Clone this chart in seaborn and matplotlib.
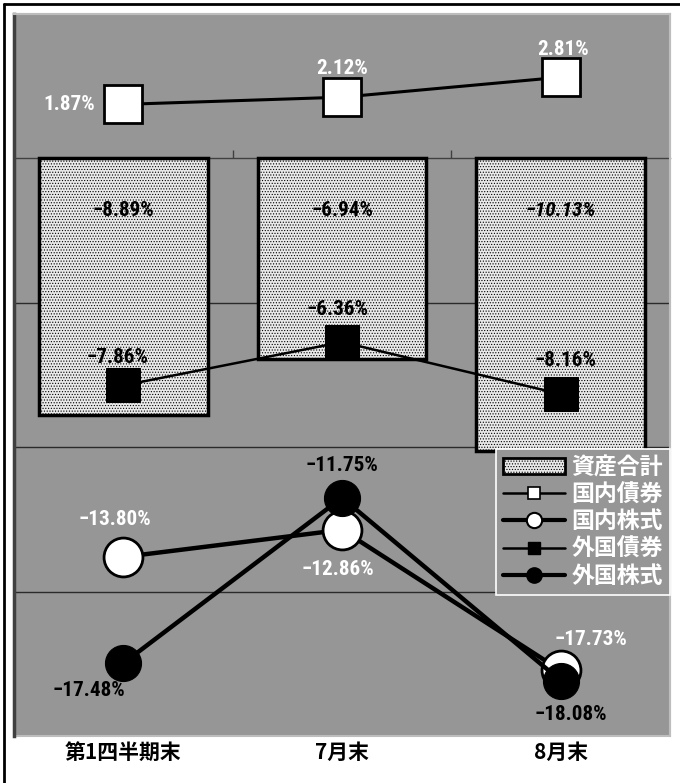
import matplotlib
matplotlib.use('Agg')
import matplotlib.pyplot as plt
import matplotlib.transforms as mtransforms
from matplotlib import font_manager
from matplotlib.lines import Line2D
from matplotlib.patches import Patch
import seaborn as sns

# データ
categories = ['第1四半期末', '7月末', '8月末']
total_assets = [-8.89, -6.94, -10.13]      # 資産合計
dom_bonds = [1.87, 2.12, 2.81]              # 国内債券
dom_stocks = [-13.80, -12.86, -17.73]       # 国内株式
for_bonds = [-7.86, -6.36, -8.16]           # 外国債券
for_stocks = [-17.48, -11.75, -18.08]       # 外国株式

sns.set_theme(style='white')

# 細身のフォントがあれば使う
installed = {f.name for f in font_manager.fontManager.ttflist}
narrow = None
num_size = 13
for name, size in [('Liberation Sans Narrow', 15.5), ('DejaVu Sans Condensed', 14.8),
                   ('Roboto Condensed', 15.2), ('Open Sans Condensed', 15)]:
    if name in installed:
        narrow, num_size = name, size
        break
if narrow is None:
    narrow = 'Liberation Sans'
num_font = [narrow, 'DejaVu Sans']
cjk_font = ['Noto Sans CJK JP', 'DejaVu Sans']

plt.rcParams['font.family'] = num_font + ['Noto Sans CJK JP']
plt.rcParams['hatch.color'] = '#a8a8a8'
plt.rcParams['hatch.linewidth'] = 0.5

BG = '#969696'

fig = plt.figure(figsize=(6.8, 7.83), dpi=100)
ax = fig.add_axes([14 / 680, 1 - 736 / 783, 656 / 680, 722 / 783])
ax.set_facecolor(BG)

xpos = list(range(len(categories)))

# 棒グラフ（資産合計）
sns.barplot(x=xpos, y=total_assets, ax=ax, color='#e6e6e6', width=0.77,
            edgecolor='black', linewidth=2.5, zorder=2, native_scale=True)
for p in ax.patches:
    p.set_facecolor('#e9e9e9')
    p.set_hatch('......')

# 折れ線
sns.lineplot(x=xpos, y=dom_bonds, ax=ax, color='black', linewidth=2.2,
             marker='s', markersize=28, markerfacecolor='white',
             markeredgecolor='black', markeredgewidth=2, zorder=4)
sns.lineplot(x=xpos, y=for_bonds, ax=ax, color='black', linewidth=1.8,
             marker='s', markersize=24, markerfacecolor='black',
             markeredgecolor='black', zorder=4)
sns.lineplot(x=xpos, y=dom_stocks, ax=ax, color='black', linewidth=3.2,
             marker='o', markersize=28, markerfacecolor='white',
             markeredgecolor='black', markeredgewidth=2, zorder=5)
sns.lineplot(x=xpos, y=for_stocks, ax=ax, color='black', linewidth=3.2,
             marker='o', markersize=26, markerfacecolor='black',
             markeredgecolor='black', zorder=6)

ax.set_xlim(-0.5, 2.5)
ax.set_ylim(-20, 5)

# 目盛線
for yv in [-5, -10, -15]:
    ax.axhline(yv, color='#2a2a2a', linewidth=1, zorder=1)

ax.spines['bottom'].set_position(('data', 0))
ax.spines['bottom'].set_color('#404040')
ax.spines['bottom'].set_linewidth(1)
ax.spines['bottom'].set_zorder(1)
ax.spines['left'].set_color('#404040')
ax.spines['left'].set_linewidth(2.5)
ax.spines['top'].set_color('#bdbdbd')
ax.spines['top'].set_linewidth(1.5)
ax.spines['right'].set_color('#bdbdbd')
ax.spines['right'].set_linewidth(1.5)
ax.patch.set_edgecolor('#bdbdbd')
ax.patch.set_linewidth(1.5)

ax.set_xticks(xpos)
ax.set_xticklabels([])
ax.set_xticks([0.5, 1.5], minor=True)
ax.tick_params(axis='x', which='major', length=0)
ax.tick_params(axis='x', which='minor', direction='in', length=6,
               width=1, color='#404040', bottom=True)
ax.set_yticks([])
ax.set_xlabel('')
ax.set_ylabel('')

# カテゴリ名
trans = mtransforms.blended_transform_factory(ax.transData, fig.transFigure)
for x, c in zip(xpos, categories):
    ax.text(x, 1 - 752 / 783, c, transform=trans, ha='center', va='center',
            fontsize=15, fontweight='bold', family=cjk_font, color='black')


def pct(v):
    return f'{v:.2f}%'.replace('-', '\u2212')


def lab(x, y, dx, dy, color, italic=False):
    ax.annotate(pct(y), (x, y), xytext=(dx, dy), textcoords='offset pixels',
                ha='center', va='center', fontsize=num_size, fontweight='bold',
                family=num_font, color=color,
                fontstyle='italic' if italic else 'normal', zorder=8)


# 資産合計ラベル
for x, v in zip(xpos, total_assets):
    ax.annotate(pct(v), (x, -1.8), ha='center', va='center', fontsize=num_size,
                fontweight='bold', family=num_font, color='black',
                fontstyle='italic' if x == 2 else 'normal', zorder=8)

# 国内債券
lab(0, dom_bonds[0], -54, 0, 'white')
lab(1, dom_bonds[1], 0, 29, 'white')
lab(2, dom_bonds[2], 2, 28, 'white')
# 外国債券
lab(0, for_bonds[0], -6, 28, 'black')
lab(1, for_bonds[1], -4, 33, 'black')
lab(2, for_bonds[2], 5, 34, 'black')
# 国内株式
lab(0, dom_stocks[0], -8, 37, 'white')
lab(1, dom_stocks[1], -4, -40, 'white')
lab(2, dom_stocks[2], 30, 31, 'white')
# 外国株式
lab(0, for_stocks[0], -34, -27, 'black')
lab(1, for_stocks[1], 0, 32, 'black')
lab(2, for_stocks[2], 10, -34, 'black')

# 凡例
handles = [
    Patch(facecolor='#e9e9e9', edgecolor='black', linewidth=2, hatch='......'),
    Line2D([], [], color='black', linewidth=1.8, marker='s', markersize=9,
           markerfacecolor='white', markeredgecolor='black', markeredgewidth=1.2),
    Line2D([], [], color='black', linewidth=3, marker='o', markersize=11,
           markerfacecolor='white', markeredgecolor='black', markeredgewidth=1.5),
    Line2D([], [], color='black', linewidth=1.8, marker='s', markersize=9,
           markerfacecolor='black', markeredgecolor='black'),
    Line2D([], [], color='black', linewidth=3, marker='o', markersize=11,
           markerfacecolor='black', markeredgecolor='black'),
]
labels = ['資産合計', '国内債券', '国内株式', '外国債券', '外国株式']
leg = ax.legend(handles, labels, loc='upper right', bbox_to_anchor=(1.0, 0.397),
                frameon=True, fancybox=False, framealpha=1, facecolor=BG,
                edgecolor='white', borderpad=0.3, borderaxespad=0,
                handlelength=2.7, handleheight=0.7, handletextpad=0.3,
                labelspacing=0.18,
                prop={'family': cjk_font, 'weight': 'bold', 'size': 16.5})
leg.get_frame().set_linewidth(1.2)
for t in leg.get_texts():
    t.set_color('white')
leg.set_zorder(10)

# 外枠
fig.add_artist(Line2D([4 / 680, 4 / 680], [0, 1 - 4 / 783], color='black',
                      linewidth=2, transform=fig.transFigure))
fig.add_artist(Line2D([4 / 680, 1], [1 - 4 / 783, 1 - 4 / 783], color='black',
                      linewidth=2, transform=fig.transFigure))

fig.savefig('out.png', dpi=100)
